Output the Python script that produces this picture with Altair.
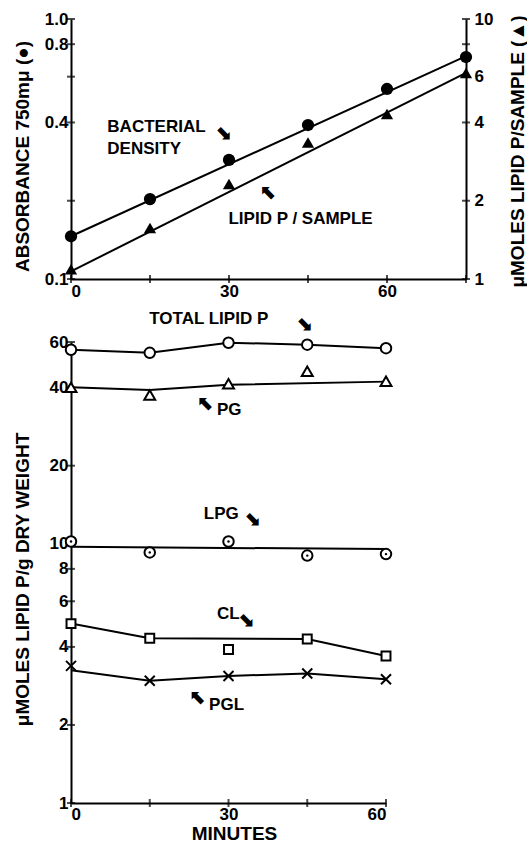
import altair as alt
import pandas as pd

FONT = "Liberation Sans"
ARROW_FONT = "DejaVu Sans"

# ---------------- top panel data ----------------
top_minutes = [0, 15, 30, 45, 60, 75]
absorbance = [0.146, 0.203, 0.287, 0.391, 0.538, 0.714]      # left axis, filled circles
lipid_p_sample = [1.09, 1.57, 2.32, 3.35, 4.31, 6.2]          # right axis, filled triangles
fit_minutes = [0, 75]
absorbance_fit = [0.146, 0.72]
lipid_p_fit = [1.07, 6.2]

top_x_ticks = [0, 15, 30, 45, 60, 75]
left_ticks = [0.1, 0.2, 0.4, 0.6, 0.8, 1.0]
right_ticks = [1, 2, 4, 6, 8, 10]

top_labels = ["BACTERIAL\nDENSITY", "LIPID P / SAMPLE"]
top_label_x = [6.9, 29.9]
top_label_y = [0.384, 0.170]
top_arrows = ["⬊", "⬉"]
top_arrow_x = [28.9, 37.5]
top_arrow_y = [0.364, 0.214]

# ---------------- bottom panel data ----------------
minutes = [0, 15, 30, 45, 60]
total_lipid = [56.0, 54.5, 59.6, 58.6, 56.8]
pg = [40.1, 37.5, 41.4, 46.3, 42.3]
lpg = [10.2, 9.26, 10.2, 9.0, 9.12]
cl = [4.92, 4.32, 3.91, 4.29, 3.69]
pgl = [3.38, 2.96, 3.09, 3.16, 3.0]

total_line_x, total_line_y = minutes, total_lipid
pg_line_x, pg_line_y = [0, 15, 30, 60], [40.1, 39.2, 41.0, 42.2]
lpg_line_x, lpg_line_y = [0, 60], [9.73, 9.54]
cl_line_x, cl_line_y = [0, 15, 45, 60], [4.92, 4.32, 4.29, 3.69]
pgl_line_x, pgl_line_y = minutes, [3.25, 2.96, 3.09, 3.16, 3.0]

bottom_x_ticks = [0, 15, 30, 45, 60]
bottom_y_ticks = [1, 2, 4, 6, 8, 10, 20, 40, 60]

bottom_labels = ["TOTAL LIPID P", "PG", "LPG", "CL", "PGL"]
bottom_label_x = [14.9, 27.8, 25.3, 27.8, 26.3]
bottom_label_y = [73.3, 32.9, 13.05, 5.37, 2.39]
bottom_arrows = ["⬊", "⬉", "⬊", "⬊", "⬉"]
bottom_arrow_x = [44.4, 25.7, 34.5, 33.3, 24.2]
bottom_arrow_y = [70.7, 34.7, 12.5, 5.09, 2.54]

# ---------------- common axis style ----------------
ax_style = dict(domainColor="black", domainWidth=2, ticks=False,
                labelFont=FONT, labelFontSize=17, labelFontWeight="bold",
                labelColor="black", titleFont=FONT, titleFontSize=19, titleFontWeight="bold",
                titleColor="black", grid=False)

# ---------------- top chart ----------------
top_x = alt.X("m:Q", scale=alt.Scale(domain=[0, 75], nice=False, zero=False),
              axis=alt.Axis(values=top_x_ticks, title=None, labelPadding=4,
                            labelExpr="datum.value % 30 == 0 ? datum.label : ''", **ax_style))
left_y = alt.Y("v:Q", scale=alt.Scale(type="log", domain=[0.1, 1.0], nice=False),
               axis=alt.Axis(values=left_ticks, labelPadding=3,
                             labelExpr="(datum.value > 0.15 && datum.value < 0.25) || (datum.value > 0.55 && datum.value < 0.65) ? '' : format(datum.value, '.1f')",
                             title="ABSORBANCE  750mμ (●)", titleAngle=270, titleX=-49, titleY=137,
                             titleAlign="center", titleBaseline="middle", **ax_style))
right_y = alt.Y("v:Q", scale=alt.Scale(type="log", domain=[1, 10], nice=False),
                axis=alt.Axis(orient="right", values=right_ticks, labelPadding=8,
                              labelExpr="datum.value == 8 ? '' : format(datum.value, 'd')",
                              title="μMOLES  LIPID  P/SAMPLE (▲)", titleAngle=270, titleX=51, titleY=132,
                              titleAlign="center", titleBaseline="middle", **ax_style))

abs_df = pd.DataFrame({"m": top_minutes, "v": absorbance})
abs_fit_df = pd.DataFrame({"m": fit_minutes, "v": absorbance_fit})
lip_df = pd.DataFrame({"m": top_minutes, "v": lipid_p_sample})
lip_fit_df = pd.DataFrame({"m": fit_minutes, "v": lipid_p_fit})
top_lab_df = pd.DataFrame({"m": top_label_x, "v": top_label_y, "t": top_labels})
top_arr_df = pd.DataFrame({"m": top_arrow_x, "v": top_arrow_y, "t": top_arrows})

left_tick_df = pd.DataFrame({"m": [0] * len(left_ticks), "v": left_ticks})
topx_tick_df = pd.DataFrame({"m": top_x_ticks, "v": [0.1] * len(top_x_ticks)})
right_tick_df = pd.DataFrame({"m": [75] * len(right_ticks), "v": right_ticks})

left_group = alt.layer(
    alt.Chart(left_tick_df).mark_tick(orient="horizontal", size=8, thickness=2, color="black").encode(x=top_x, y=left_y),
    alt.Chart(topx_tick_df).mark_tick(orient="vertical", size=8, thickness=2, color="black").encode(x=top_x, y=left_y),
    alt.Chart(abs_fit_df).mark_line(color="black", strokeWidth=2).encode(x=top_x, y=left_y),
    alt.Chart(abs_df).mark_point(shape="circle", filled=True, color="black", size=150, opacity=1).encode(x=top_x, y=left_y),
    alt.Chart(top_lab_df).mark_text(font=FONT, fontSize=17, fontWeight="bold", align="left",
                                    baseline="middle", lineBreak="\n", lineHeight=22, color="black").encode(x=top_x, y=left_y, text="t:N"),
    alt.Chart(top_arr_df).mark_text(font=ARROW_FONT, fontSize=20, fontWeight="bold", align="center",
                                    baseline="middle", color="black").encode(x=top_x, y=left_y, text="t:N"),
)
right_group = alt.layer(
    alt.Chart(right_tick_df).mark_tick(orient="horizontal", size=8, thickness=2, color="black").encode(x=top_x, y=right_y),
    alt.Chart(lip_fit_df).mark_line(color="black", strokeWidth=2).encode(x=top_x, y=right_y),
    alt.Chart(lip_df).mark_point(shape="triangle-up", filled=True, color="black", size=150, opacity=1).encode(x=top_x, y=right_y),
)
top_chart = alt.layer(left_group, right_group).resolve_scale(y="independent").properties(width=395, height=260)

# ---------------- bottom chart ----------------
bx = alt.X("m:Q", scale=alt.Scale(domain=[0, 60], nice=False, zero=False),
           axis=alt.Axis(values=bottom_x_ticks, title="MINUTES", labelPadding=3,
                         labelExpr="datum.value % 30 == 0 ? datum.label : ''",
                         titleY=30, titleBaseline="middle", titleX=163, **ax_style))
by = alt.Y("v:Q", scale=alt.Scale(type="log", domain=[1, 60], nice=False),
           axis=alt.Axis(values=bottom_y_ticks, format="d", labelPadding=3,
                         title="μMOLES  LIPID  P/g  DRY  WEIGHT", titleAngle=270, titleX=-49, titleY=237,
                         titleAlign="center", titleBaseline="middle", **ax_style))


def line(xs, ys):
    return alt.Chart(pd.DataFrame({"m": xs, "v": ys})).mark_line(color="black", strokeWidth=2).encode(x=bx, y=by)


def pts(ys, **kw):
    return alt.Chart(pd.DataFrame({"m": minutes, "v": ys})).mark_point(opacity=1, **kw).encode(x=bx, y=by)


bl_df = pd.DataFrame({"m": bottom_label_x, "v": bottom_label_y, "t": bottom_labels})
ba_df = pd.DataFrame({"m": bottom_arrow_x, "v": bottom_arrow_y, "t": bottom_arrows})
by_tick_df = pd.DataFrame({"m": [0] * len(bottom_y_ticks), "v": bottom_y_ticks})
bx_tick_df = pd.DataFrame({"m": bottom_x_ticks, "v": [1] * len(bottom_x_ticks)})

bottom_chart = alt.layer(
    alt.Chart(by_tick_df).mark_tick(orient="horizontal", size=8, thickness=2, color="black").encode(x=bx, y=by),
    alt.Chart(bx_tick_df).mark_tick(orient="vertical", size=8, thickness=2, color="black").encode(x=bx, y=by),
    line(total_line_x, total_line_y),
    line(pg_line_x, pg_line_y),
    line(lpg_line_x, lpg_line_y),
    line(cl_line_x, cl_line_y),
    line(pgl_line_x, pgl_line_y),
    pts(total_lipid, shape="circle", filled=True, fill="white", stroke="black", strokeWidth=2, size=110),
    pts(pg, shape="triangle-up", filled=True, fill="white", stroke="black", strokeWidth=2, size=120),
    pts(lpg, shape="circle", filled=True, fill="white", stroke="black", strokeWidth=2, size=110),
    pts(lpg, shape="circle", filled=True, color="black", size=6),
    pts(cl, shape="square", filled=True, fill="white", stroke="black", strokeWidth=2, size=80),
    pts(pgl, shape="M-1,-1L1,1M1,-1L-1,1", filled=False, stroke="black", strokeWidth=2, size=100),
    alt.Chart(bl_df).mark_text(font=FONT, fontSize=17, fontWeight="bold", align="left",
                               baseline="middle", color="black").encode(x=bx, y=by, text="t:N"),
    alt.Chart(ba_df).mark_text(font=ARROW_FONT, fontSize=20, fontWeight="bold", align="center",
                               baseline="middle", color="black").encode(x=bx, y=by, text="t:N"),
).properties(width=315, height=461)

chart = alt.vconcat(top_chart, bottom_chart, spacing=11).properties(
    padding={"left": 12, "top": 9, "right": 0, "bottom": 0},
    background="white",
).configure_view(stroke=None)

chart.save("out.html", embed_options={"renderer": "svg", "actions": False})
